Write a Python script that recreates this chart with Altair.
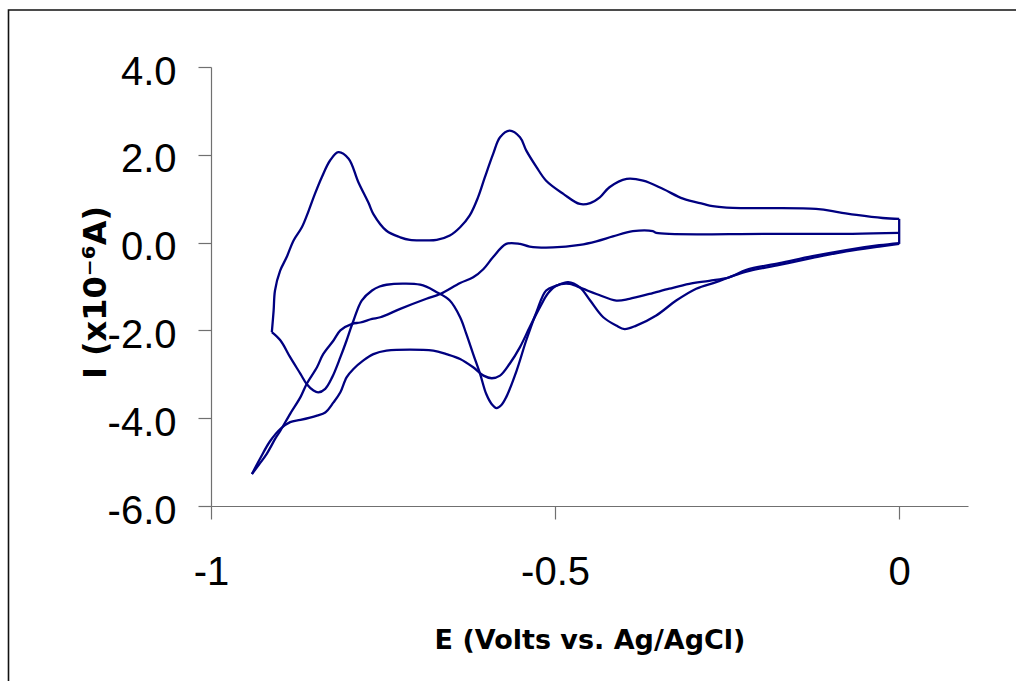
import altair as alt
import pandas as pd

# Potential (V vs. Ag/AgCl) and current (x1e-6 A) for each branch of the voltammogram.

# anodic return sweep from the -0.91 V switch up to 0 V
ox_E = [-0.9116, -0.909, -0.907, -0.8995, -0.890, -0.880, -0.868, -0.858, -0.849, -0.839,
        -0.827, -0.815, -0.800, -0.786, -0.771, -0.764, -0.745, -0.725, -0.711, -0.690,
        -0.672, -0.653, -0.638, -0.624, -0.612, -0.602, -0.590, -0.580, -0.566, -0.551,
        -0.542, -0.527, -0.513, -0.488, -0.464, -0.449, -0.435, -0.421, -0.396, -0.372,
        -0.343, -0.314, -0.285, -0.271, -0.242, -0.121, -0.087, -0.062, -0.024, 0.0]
ox_I = [-2.04, -1.55, -1.09, -0.64, -0.33, 0.05, 0.35, 0.73, 1.11, 1.49,
        1.87, 2.06, 1.91, 1.38, 0.90, 0.65, 0.27, 0.12, 0.06, 0.05,
        0.06, 0.16, 0.35, 0.62, 1.03, 1.49, 2.02, 2.40, 2.55, 2.40,
        2.10, 1.72, 1.41, 1.11, 0.88, 0.90, 1.03, 1.26, 1.45, 1.41,
        1.22, 1.00, 0.88, 0.83, 0.79, 0.77, 0.69, 0.63, 0.56, 0.54]

# current drop while holding at the 0 V switch
hold_E = [0.0, 0.0]
hold_I = [0.54, -0.03]

# cathodic sweep down to -0.91 V
red1_E = [-0.9116, -0.899, -0.885, -0.870, -0.861, -0.851, -0.844, -0.834, -0.824, -0.812,
          -0.803, -0.798, -0.793, -0.781, -0.766, -0.755, -0.745, -0.696, -0.672, -0.653,
          -0.638, -0.629, -0.619, -0.609, -0.600, -0.592, -0.585, -0.578, -0.571, -0.556,
          -0.542, -0.527, -0.513, -0.498, -0.481, -0.464, -0.449, -0.430, -0.411, -0.399,
          -0.382, -0.353, -0.324, -0.295, -0.266, -0.247, -0.222, -0.174, -0.126, -0.077,
          -0.029, 0.0]
red1_I = [-2.04, -2.23, -2.61, -2.99, -3.22, -3.37, -3.41, -3.33, -3.07, -2.61,
          -2.23, -2.00, -1.78, -1.32, -1.09, -1.00, -0.96, -0.96, -1.13, -1.32,
          -1.70, -2.08, -2.54, -2.99, -3.45, -3.68, -3.77, -3.70, -3.52, -2.92,
          -2.23, -1.58, -1.09, -0.98, -0.90, -1.02, -1.32, -1.70, -1.89, -1.97,
          -1.89, -1.66, -1.32, -1.05, -0.90, -0.79, -0.66, -0.51, -0.35, -0.20,
          -0.09, -0.03]

# cathodic sweep down to -0.94 V
red2_E = [-0.9405, -0.928, -0.914, -0.899, -0.885, -0.870, -0.846, -0.834, -0.822, -0.812,
          -0.803, -0.793, -0.779, -0.764, -0.745, -0.677, -0.658, -0.638, -0.619, -0.604,
          -0.592, -0.580, -0.566, -0.551, -0.537, -0.522, -0.510, -0.498, -0.479, -0.460,
          -0.440, -0.411, -0.392, -0.363, -0.334, -0.305, -0.276, -0.247, -0.222, -0.174,
          -0.126, -0.077, -0.029, 0.0]
red2_I = [-5.27, -4.90, -4.52, -4.24, -4.09, -4.04, -3.94, -3.87, -3.64, -3.41,
          -3.07, -2.88, -2.69, -2.54, -2.46, -2.46, -2.54, -2.65, -2.84, -3.03,
          -3.09, -3.03, -2.76, -2.38, -1.93, -1.47, -1.15, -0.98, -0.94, -1.05,
          -1.17, -1.32, -1.28, -1.17, -1.05, -0.94, -0.87, -0.79, -0.62, -0.47,
          -0.31, -0.17, -0.06, -0.01]

# return sweep from the -0.94 V switch
ret_E = [-0.9405, -0.930, -0.919, -0.906, -0.899, -0.885, -0.870, -0.861, -0.846, -0.837,
         -0.822, -0.812, -0.795, -0.783, -0.766, -0.754, -0.725, -0.687, -0.667, -0.638,
         -0.619, -0.604, -0.590, -0.571, -0.551, -0.537, -0.503, -0.464, -0.440, -0.416,
         -0.387, -0.358, -0.353, -0.193, -0.068, 0.0]
ret_I = [-5.27, -5.05, -4.81, -4.45, -4.28, -3.90, -3.52, -3.22, -2.84, -2.54,
         -2.23, -2.00, -1.85, -1.82, -1.74, -1.70, -1.51, -1.28, -1.17, -0.92,
         -0.79, -0.60, -0.33, -0.03, -0.03, -0.09, -0.11, -0.05, 0.03, 0.14,
         0.26, 0.26, 0.22, 0.20, 0.20, 0.22]

branches = {
    "ox": (ox_E, ox_I),
    "hold": (hold_E, hold_I),
    "red1": (red1_E, red1_I),
    "red2": (red2_E, red2_I),
    "ret": (ret_E, ret_I),
}

rows = []
for name, (es, cs) in branches.items():
    for k, (e, c) in enumerate(zip(es, cs)):
        rows.append({"branch": name, "k": k, "E": e, "I": c})
df = pd.DataFrame(rows)

x_ticks = [-1, -0.5, 0]
y_ticks = [-6, -4, -2, 0, 2, 4]

W, H = 757, 439
PAD = {"left": 211, "top": 67, "right": 48, "bottom": 175}
AXIS_GRAY = "#707070"
TITLE_FONT = "DejaVu Sans"

x_axis = alt.Axis(
    values=x_ticks,
    labelExpr="(datum.value < 0 ? '-' : '') + toString(abs(datum.value))",
    labelFlush=False,
    title="E (Volts vs. Ag/AgCl)",
    titleX=W / 2,
    titleY=142,
    titleAlign="center",
    titleBaseline="alphabetic",
    titleFontSize=27,
    labelPadding=33,
    labelBaseline="top",
)
y_axis = alt.Axis(
    values=y_ticks,
    labelExpr="(datum.value < 0 ? '-' : '') + format(abs(datum.value), '.1f')",
    title="I (x10\u207b\u2076A)",
    titleAngle=270,
    titleX=-106,
    titleY=225,
    titleAlign="center",
    titleBaseline="alphabetic",
    titleFontSize=32,
    labelPadding=22,
    labelBaseline="middle",
    labelOffset=5,
)

curves = alt.Chart(df).mark_line(
    color="#000080", strokeWidth=2.3, interpolate="catmull-rom"
).encode(
    x=alt.X("E:Q", scale=alt.Scale(domain=[-1, 0.1], nice=False, zero=False), axis=x_axis),
    y=alt.Y("I:Q", scale=alt.Scale(domain=[-6, 4], nice=False, zero=False), axis=y_axis),
    detail="branch:N",
    order="k:Q",
)

# outer frame around the whole figure
frame = alt.Chart(pd.DataFrame({"f": [0]})).mark_rect(
    filled=False, stroke="#111111", strokeWidth=1.6
).encode(
    x=alt.value(8.5 - PAD["left"]),
    x2=alt.value(1030 - PAD["left"]),
    y=alt.value(10 - PAD["top"]),
    y2=alt.value(700 - PAD["top"]),
)

chart = (
    alt.layer(frame, curves)
    .properties(width=W, height=H, padding=PAD, autosize=alt.AutoSizeParams(type="none"),
                background="white")
    .configure_view(stroke=None)
    .configure_axis(
        grid=False,
        domainColor=AXIS_GRAY,
        tickColor=AXIS_GRAY,
        domainWidth=1.2,
        tickWidth=1.2,
        tickSize=13,
        labelColor="black",
        labelFont="Liberation Sans",
        labelFontSize=40,
        titleColor="black",
        titleFont=TITLE_FONT,
        titleFontWeight="bold",
    )
)

chart.save("out.html", embed_options={"renderer": "svg", "actions": False})
